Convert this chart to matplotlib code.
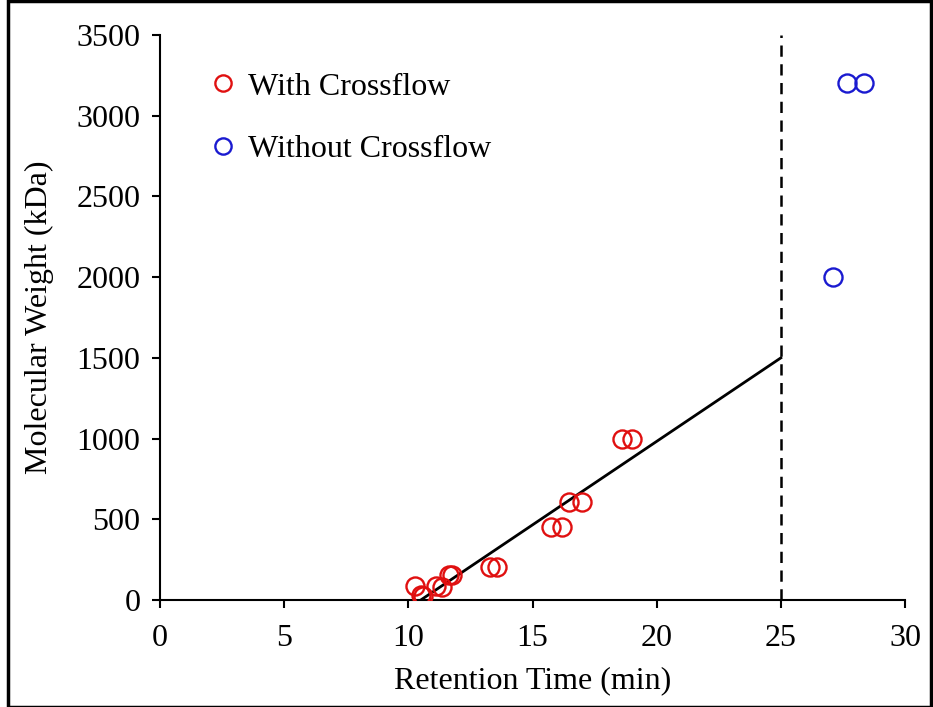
import matplotlib.pyplot as plt
from matplotlib.patches import Rectangle

plt.rcParams['font.family'] = ['Liberation Serif', 'DejaVu Serif']

# retention time (min) vs molecular weight (kDa)
tiempo_con = [10.27, 10.5, 10.6, 11.1, 11.35, 11.65, 11.75, 13.3, 13.55, 15.75, 16.2, 16.45, 17.0, 18.6, 19.0]
peso_con = [90, 30, 25, 90, 80, 155, 155, 205, 205, 450, 450, 605, 605, 1000, 1000]

tiempo_sin = [27.12, 27.65, 28.35]
peso_sin = [2000, 3200, 3200]

# linear fit and cutoff line
ajuste_x = [10.5, 25]
ajuste_y = [0, 1500]
corte_x = 25

fig = plt.figure(figsize=(9.33, 7.07), dpi=100)
ax = fig.add_axes([0.1715, 0.1513, 0.7985, 0.7992])

ax.plot(ajuste_x, ajuste_y, color='black', linewidth=2.0, zorder=2)
ax.plot([corte_x, corte_x], [0, 3500], color='black', linewidth=1.8,
        linestyle=(0, (4.5, 3)), zorder=2)

ax.plot(tiempo_con, peso_con, linestyle='none', marker='o', markersize=13,
        markerfacecolor='none', markeredgecolor='#e01010', markeredgewidth=1.7,
        label='With Crossflow', zorder=3)
ax.plot(tiempo_sin, peso_sin, linestyle='none', marker='o', markersize=13,
        markerfacecolor='none', markeredgecolor='#1a1ad0', markeredgewidth=1.7,
        label='Without Crossflow', zorder=3)

ax.set_xlim(0, 30)
ax.set_ylim(0, 3500)
ax.set_xticks(range(0, 31, 5))
ax.set_yticks(range(0, 3501, 500))

for lado in ['top', 'right']:
    ax.spines[lado].set_visible(False)
for lado in ['left', 'bottom']:
    ax.spines[lado].set_linewidth(1.5)

ax.tick_params(axis='both', direction='out', length=6, width=1.5, labelsize=23)
ax.tick_params(axis='y', pad=8)
ax.tick_params(axis='x', pad=11)

ax.set_xlabel('Retention Time (min)', fontsize=23, labelpad=10)
ax.set_ylabel('Molecular Weight (kDa)', fontsize=23, labelpad=16)

ax.legend(loc='upper left', bbox_to_anchor=(0.02, 0.985), frameon=False,
          fontsize=23, handletextpad=0.2, labelspacing=1.05, markerscale=0.9,
          handlelength=1.2)

# frame around the whole figure
fig.patches.append(Rectangle((0.009, 0.0), 0.989, 0.998, transform=fig.transFigure,
                             fill=False, edgecolor='black', linewidth=2.5))

fig.savefig('out.png', dpi=100)
